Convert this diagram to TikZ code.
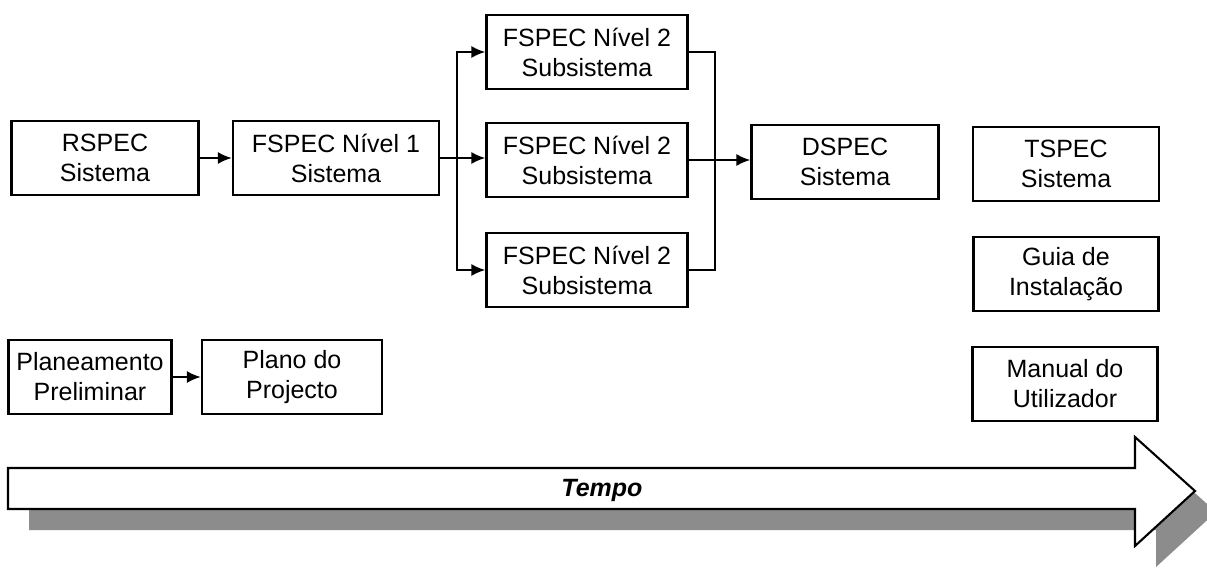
\documentclass[tikz,border=0pt]{standalone}
\usepackage{fontspec}
\setmainfont{Liberation Sans}
\usetikzlibrary{arrows.meta}
\begin{document}
\begin{tikzpicture}[x=1pt,y=-1pt,
  box/.style={draw=black,line width=2.1pt,rectangle,inner sep=0pt,align=center,
    font=\fontsize{25}{30}\selectfont,minimum height=74pt},
  conn/.style={line width=2.1pt},
  arr/.style={line width=2.1pt,-{Latex[length=14pt,width=12pt]}},
  bigarrow/.style={draw=black,line width=2.1pt,fill=white,line join=miter},
  shadowfill/.style={fill=black!45,draw=none}]
\useasboundingbox (0,0) rectangle (1207,571);
\clip (0,0) rectangle (1207,571);
% time arrow with shadow
\fill[shadowfill] (29,489) -- (1156,489) -- (1156,458) -- (1216,512) -- (1156,567) -- (1156,530) -- (29,530) -- cycle;
\draw[bigarrow] (8,468) -- (1135,468) -- (1135,437) -- (1195,491) -- (1135,546) -- (1135,509) -- (8,509) -- cycle;
\node[font=\fontsize{25}{30}\selectfont\bfseries\itshape] (tempo) at (602,490) {Tempo};
% boxes
\node[box,minimum width=187pt] (rspec) at (105,158) {RSPEC\\Sistema};
\node[box,minimum width=206pt] (f1) at (336,158) {FSPEC Nível 1\\Sistema};
\node[box,minimum width=201pt] (f2a) at (587,52) {FSPEC Nível 2\\Subsistema};
\node[box,minimum width=201pt] (f2b) at (587,160) {FSPEC Nível 2\\Subsistema};
\node[box,minimum width=201pt] (f2c) at (587,270) {FSPEC Nível 2\\Subsistema};
\node[box,minimum width=187pt] (dspec) at (845,162) {DSPEC\\Sistema};
\node[box,minimum width=186pt] (tspec) at (1066,164) {TSPEC\\Sistema};
\node[box,minimum width=185pt] (guia) at (1066,274) {Guia de\\Instalação};
\node[box,minimum width=185pt] (manual) at (1065,384) {Manual do\\Utilizador};
\node[box,minimum width=163pt] (plan) at (90,377) {Planeamento\\Preliminar};
\node[box,minimum width=180pt] (plano) at (292,377) {Plano do\\Projecto};
% connectors
\coordinate (split) at (457,0);
\coordinate (join) at (715,0);
\draw[arr] (rspec.east) -- (rspec.east -| f1.west);
\draw[arr] (f1.east) -- (f1.east -| f2b.west);
\draw[arr] (split |- f1.east) |- (f2a.west);
\draw[arr] (split |- f1.east) |- (f2c.west);
\draw[conn] (f2a.east) -| (join |- f2c.east) -- (f2c.east);
\draw[arr] (f2b.east) -- (f2b.east -| dspec.west);
\draw[arr] (plan.east) -- (plano.west);
\end{tikzpicture}
\end{document}
